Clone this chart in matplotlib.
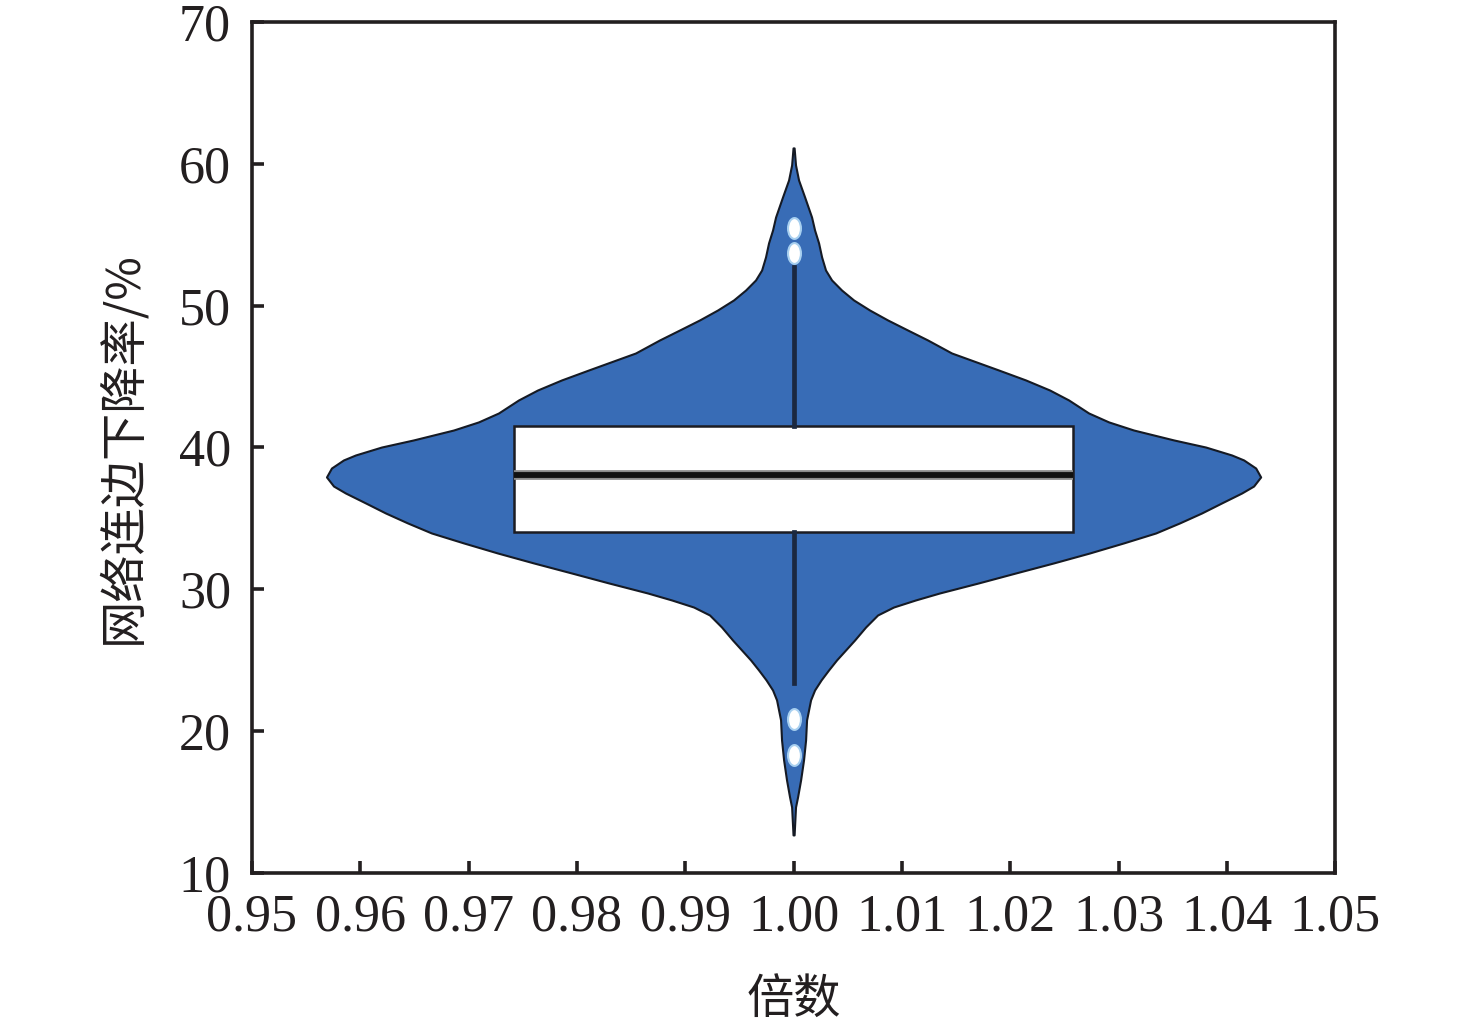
import matplotlib
matplotlib.use("Agg")
import matplotlib.pyplot as plt
from matplotlib.path import Path
from matplotlib.transforms import Affine2D

# violin outline: y value and half width (x units)
vio_y = [12.68, 14.65, 15.36, 16.56, 17.97, 19.38, 20.79, 22.20, 22.90, 23.61,
         24.31, 25.02, 25.72, 26.42, 27.34, 28.19, 28.75, 29.25, 29.74, 30.45,
         31.15, 31.86, 32.56, 33.27, 33.97, 34.68, 35.38, 36.09, 36.79, 37.28,
         37.92, 38.55, 39.12, 39.47, 40.03, 40.53, 41.23, 41.80, 42.43, 43.35,
         44.05, 44.76, 45.46, 46.66, 47.58, 48.28, 48.99, 49.69, 50.40, 51.10,
         51.81, 52.51, 53.43, 54.42, 55.33, 56.25, 57.66, 58.86, 59.92, 61.12]
vio_hw = [0.00005, 0.00018, 0.00037, 0.00065, 0.00092, 0.00111, 0.00120, 0.00157, 0.00194, 0.00254,
          0.00323, 0.00397, 0.00480, 0.00563, 0.00665, 0.00776, 0.00923, 0.01127, 0.01348, 0.01708,
          0.02050, 0.02401, 0.02733, 0.03047, 0.03343, 0.03564, 0.03767, 0.03952, 0.04137, 0.04247,
          0.04312, 0.04266, 0.04155, 0.04044, 0.03804, 0.03509, 0.03139, 0.02909, 0.02724, 0.02539,
          0.02364, 0.02142, 0.01893, 0.01459, 0.01237, 0.01053, 0.00868, 0.00702, 0.00554, 0.00443,
          0.00351, 0.00295, 0.00259, 0.00231, 0.00194, 0.00166, 0.00102, 0.00046, 0.00018, 0.00005]

pos = 1.00
q1, med, q3 = 34.04, 38.06, 41.51
whislo, whishi = 23.4, 52.7
fliers = [55.5, 53.7, 20.85, 18.3]

xticks = [0.95, 0.96, 0.97, 0.98, 0.99, 1.00, 1.01, 1.02, 1.03, 1.04, 1.05]
yticks = [10, 20, 30, 40, 50, 60, 70]

plt.rcParams['font.family'] = ['Liberation Serif', 'Noto Sans CJK SC']

fig = plt.figure(figsize=(14.76, 10.31), dpi=100)
ax = fig.add_axes([0.1707, 0.1533, 0.7339, 0.8254])

left = [pos - h for h in vio_hw]
right = [pos + h for h in vio_hw]
ax.fill_betweenx(vio_y, left, right, facecolor='#386cb6', edgecolor='#151a24',
                 linewidth=1.5, zorder=2)

stats = [dict(med=med, q1=q1, q3=q3, whislo=whislo, whishi=whishi, fliers=fliers)]
ell = Affine2D().scale(0.62, 1.0).transform_path(Path.unit_circle())
ax.bxp(stats, positions=[pos], widths=0.0516, patch_artist=True, showcaps=False,
       boxprops=dict(facecolor='white', edgecolor='#1c1c22', linewidth=1.8),
       medianprops=dict(color='#111111', linewidth=4.0),
       whiskerprops=dict(color='#1b2840', linewidth=3.4),
       flierprops=dict(marker=ell, markersize=15, markerfacecolor='white',
                       markeredgecolor='#a8d0f0', markeredgewidth=1.5),
       zorder=3)
# grey halo under the median line
ax.plot([pos - 0.0258, pos + 0.0258], [med, med], color='#8a8a8a', linewidth=7.0,
        zorder=3.5, solid_capstyle='butt')
ax.plot([pos - 0.0258, pos + 0.0258], [med, med], color='#111111', linewidth=4.2,
        zorder=3.6, solid_capstyle='butt')

ax.set_xlim(0.95, 1.05)
ax.set_ylim(10, 70)
ax.set_xticks(xticks)
ax.set_xticklabels(['%.2f' % v for v in xticks])
ax.set_yticks(yticks)

for s in ax.spines.values():
    s.set_linewidth(2.6)
    s.set_color('#231f20')
ax.tick_params(axis='both', direction='in', length=8.5, width=2.6, color='#231f20',
               labelsize=37.5, labelcolor='#231f20', pad=15, top=False, right=False)

ax.set_xlabel('倍数', fontsize=34, color='#231f20',
              family=['Noto Sans CJK SC', 'Liberation Serif'])
ax.xaxis.set_label_coords(0.5, -0.122)
ax.set_ylabel('网络连边下降率/%', fontsize=34, color='#231f20',
              family=['Noto Sans CJK SC', 'Liberation Serif'])
ax.yaxis.set_label_coords(-0.097, 0.5)

fig.savefig('out.png', dpi=100)
